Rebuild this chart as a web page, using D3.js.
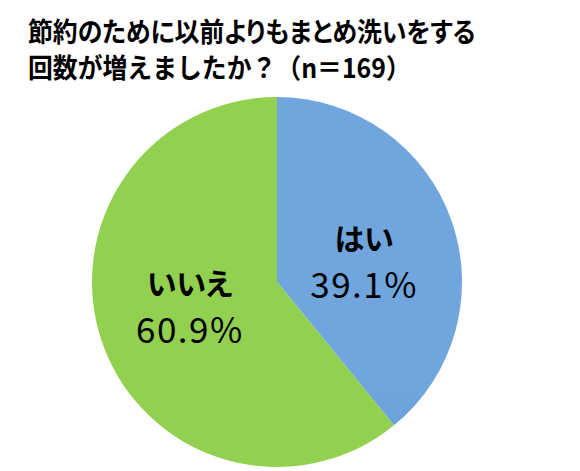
<!DOCTYPE html>
<html>
<head>
<meta charset="utf-8">
<script src="https://cdn.jsdelivr.net/npm/d3@7"></script>
<style>
body { margin: 0; background: #fff; }
text { font-family: "Noto Sans CJK JP", sans-serif; }
</style>
</head>
<body>
<script>
// data
var labels = ["はい", "いいえ"];
var values = [39.1, 60.9];
var titleLines = ["節約のために以前よりもまとめ洗いをする", "回数が増えましたか？（n＝169）"];

var w = 580, h = 471;
var cx = 277, cy = 282, r = 185;

var svg = d3.select("body").append("svg")
    .attr("width", w)
    .attr("height", h);

// blue gradient for the "yes" slice
var grad = svg.append("defs").append("linearGradient")
    .attr("id", "blueGrad")
    .attr("gradientUnits", "userSpaceOnUse")
    .attr("x1", 0).attr("y1", cy - r)
    .attr("x2", 0).attr("y2", cy + r);
grad.append("stop").attr("offset", "0%").attr("stop-color", "#70a6dd");
grad.append("stop").attr("offset", "100%").attr("stop-color", "#3f87c8");

var colors = ["url(#blueGrad)", "#92d050"];

// title (squeezed a little to match the narrower original font)
svg.selectAll(".title")
    .data(titleLines)
    .enter().append("text")
    .attr("class", "title")
    .attr("transform", function(d, i){ return "translate(28," + (42 + i * 36) + ") scale(0.92,1)"; })
    .attr("font-size", 27)
    .attr("font-weight", "bold")
    .style("font-feature-settings", function(d, i){ return i == 0 ? "'palt'" : "normal"; })
    .attr("fill", "#000")
    .text(function(d){ return d; });

var pie = d3.pie().sort(null).value(function(d){ return d; });
var arc = d3.arc().innerRadius(0).outerRadius(r);

var g = svg.append("g")
    .attr("transform", "translate(" + cx + "," + cy + ")");

var arcs = pie(values);

g.selectAll("path")
    .data(arcs)
    .enter().append("path")
    .attr("d", arc)
    .attr("fill", function(d, i){ return colors[i]; });

// labels, placed a bit like Excel does
var labelArc = d3.arc().innerRadius(r * 0.5).outerRadius(r * 0.5);
var nudge = [8, -9];

var lab = g.selectAll(".lab")
    .data(arcs)
    .enter().append("g")
    .attr("class", "lab")
    .attr("transform", function(d, i){
        var c = labelArc.centroid(d);
        return "translate(" + c[0] + "," + (c[1] + nudge[i]) + ")";
    });

lab.append("text")
    .attr("text-anchor", "middle")
    .attr("y", -9)
    .attr("font-size", 30)
    .attr("font-weight", "bold")
    .style("font-feature-settings", "'palt'")
    .text(function(d, i){ return labels[i]; });

lab.append("text")
    .attr("text-anchor", "middle")
    .attr("y", 39)
    .attr("font-size", 35)
    .attr("letter-spacing", 1.5)
    .attr("font-family", "DejaVu Sans, sans-serif")
    .text(function(d){ return d.value.toFixed(1) + "%"; });
</script>
</body>
</html>
